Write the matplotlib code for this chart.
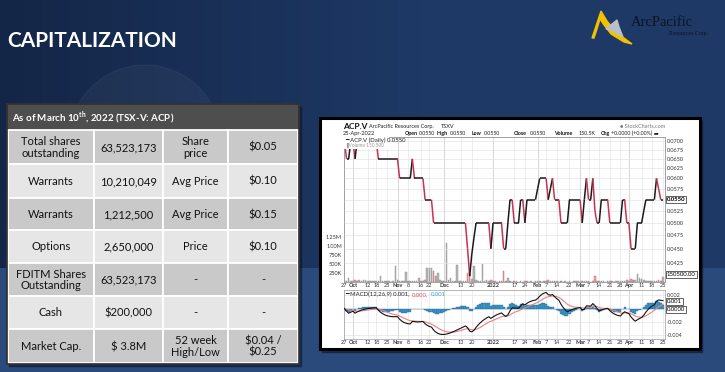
import numpy as np
import pandas as pd
import matplotlib
matplotlib.use("Agg")
import matplotlib.pyplot as plt
from matplotlib.patches import Rectangle, Circle, Polygon
from matplotlib.collections import LineCollection
from matplotlib.ticker import NullLocator, NullFormatter
import matplotlib.transforms as mtransforms

plt.rcParams['font.family'] = ['Lato', 'DejaVu Sans']
plt.rcParams['mathtext.fontset'] = 'custom'
plt.rcParams['mathtext.rm'] = 'Lato'
plt.rcParams['mathtext.bf'] = 'Lato:bold'

# ---- table data ----
table_title = r"As of March 10$^{\mathbf{th}}$, 2022 (TSX-V: ACP)"
col_item = ["Total shares\noutstanding", "Warrants", "Warrants", "Options",
            "FDITM Shares\nOutstanding", "Cash", "Market Cap."]
col_amount = ["63,523,173", "10,210,049", "1,212,500", "2,650,000",
              "63,523,173", "$200,000", "$ 3.8M"]
col_label = ["Share\nprice", "Avg Price", "Avg Price", "Price", "-", "-", "52 week\nHigh/Low"]
col_price = ["$0.05", "$0.10", "$0.15", "$0.10", "-", "-", "$0.04 /\n$0.25"]

# ---- stock chart data (ACP.V daily, 27 Sep 2021 - 25 Apr 2022) ----
start_date, end_date = "2021-09-27", "2022-04-25"
close = [
    0.0700, 0.0650, 0.0650, 0.0700, 0.0700, 0.0650, 0.0700, 0.0700, 0.0700, 0.0700,
    0.0700, 0.0700, 0.0700, 0.0700, 0.0700, 0.0700, 0.0650, 0.0650, 0.0650, 0.0650,
    0.0650, 0.0650, 0.0650, 0.0650, 0.0650, 0.0650, 0.0600, 0.0600, 0.0600, 0.0600,
    0.0600, 0.0600, 0.0650, 0.0600, 0.0600, 0.0600, 0.0600, 0.0600, 0.0550, 0.0550,
    0.0550, 0.0550, 0.0500, 0.0500, 0.0500, 0.0500, 0.0500, 0.0500, 0.0500, 0.0500,
    0.0500, 0.0500, 0.0500, 0.0500, 0.0500, 0.0500, 0.0500, 0.0500, 0.0450, 0.0402,
    0.0440, 0.0470, 0.0500, 0.0500, 0.0500, 0.0500, 0.0500, 0.0500, 0.0500, 0.0450,
    0.0500, 0.0500, 0.0500, 0.0500, 0.0500, 0.0450, 0.0450, 0.0500, 0.0550, 0.0550,
    0.0500, 0.0500, 0.0500, 0.0550, 0.0550, 0.0500, 0.0550, 0.0550, 0.0550, 0.0550,
    0.0550, 0.0575, 0.0600, 0.0600, 0.0600, 0.0600, 0.0550, 0.0575, 0.0600, 0.0550,
    0.0550, 0.0550, 0.0500, 0.0500, 0.0500, 0.0500, 0.0550, 0.0550, 0.0550, 0.0550,
    0.0550, 0.0550, 0.0500, 0.0550, 0.0600, 0.0550, 0.0550, 0.0600, 0.0525, 0.0500,
    0.0500, 0.0550, 0.0550, 0.0550, 0.0550, 0.0500, 0.0500, 0.0500, 0.0500, 0.0500,
    0.0500, 0.0550, 0.0550, 0.0500, 0.0500, 0.0450, 0.0450, 0.0450, 0.0500, 0.0500,
    0.0500, 0.0525, 0.0550, 0.0550, 0.0550, 0.0550, 0.0550, 0.0600, 0.0575, 0.0550,
    0.0550,
]
volume_k = [
    60, 20, 100, 30, 20, 60, 40, 50, 30, 60,
    50, 40, 20, 30, 20, 30, 40, 180, 20, 30,
    20, 30, 10, 20, 460, 60, 30, 20, 40, 290,
    20, 40, 30, 20, 20, 110, 30, 20, 50, 385,
    395, 380, 320, 180, 260, 50, 30, 40, 1100, 60,
    120, 30, 40, 470, 40, 30, 20, 40, 260, 210,
    90, 450, 60, 30, 40, 490, 30, 60, 20, 50,
    20, 30, 10, 20, 20, 320, 40, 100, 20, 10,
    30, 20, 10, 20, 10, 30, 20, 10, 20, 10,
    20, 30, 20, 10, 20, 30, 60, 20, 30, 40,
    20, 10, 30, 10, 20, 10, 20, 10, 20, 30,
    20, 10, 40, 20, 30, 20, 10, 20, 170, 30,
    20, 30, 20, 10, 20, 40, 20, 10, 20, 30,
    20, 30, 20, 60, 40, 90, 50, 60, 210, 100,
    80, 60, 40, 30, 20, 30, 20, 40, 50, 30,
    150.5,
]
tick_dates = ["2021-09-27", "2021-10-01", "2021-10-12", "2021-10-18", "2021-10-25",
              "2021-11-01", "2021-11-08", "2021-11-16", "2021-11-22", "2021-12-01",
              "2021-12-13", "2021-12-20", "2022-01-03", "2022-01-17", "2022-01-24",
              "2022-02-01", "2022-02-07", "2022-02-14", "2022-02-22", "2022-03-01",
              "2022-03-07", "2022-03-14", "2022-03-21", "2022-03-28", "2022-04-01",
              "2022-04-11", "2022-04-18", "2022-04-25"]
tick_labels = ["27", "Oct", "12", "18", "25", "Nov", "8", "16", "22", "Dec", "13", "20",
               "2022", "17", "24", "Feb", "7", "14", "22", "Mar", "7", "14", "21", "28",
               "Apr", "11", "18", "25"]
month_labels = {"Oct", "Nov", "Dec", "2022", "Feb", "Mar", "Apr"}
price_ticks = [0.0425, 0.0450, 0.0475, 0.0500, 0.0525, 0.0550, 0.0575,
               0.0600, 0.0625, 0.0650, 0.0675, 0.0700]
vol_ticks = [250e3, 500e3, 750e3, 1.0e6, 1.25e6]
vol_tick_labels = ["250K", "500K", "750K", "1.00M", "1.25M"]
macd_ticks = [0.002, -0.002, -0.004]

dates = pd.bdate_range(start_date, end_date)
x = np.arange(len(dates))
close = np.array(close)
volume = np.array(volume_k) * 1000
tick_pos = dates.get_indexer(pd.to_datetime(tick_dates))

s = pd.Series(close)
macd = s.ewm(span=12, adjust=False).mean() - s.ewm(span=26, adjust=False).mean()
signal = macd.ewm(span=9, adjust=False).mean()
hist = macd - signal

# ---- figure / slide background ----
W, H = 725, 372
fig = plt.figure(figsize=(7.25, 3.72), dpi=100)
bg = fig.add_axes([0, 0, 1, 1])
bg.set_xlim(0, W)
bg.set_ylim(H, 0)
bg.axis("off")

yy, xx = np.mgrid[0:H, 0:W]
c_left = np.array([0x14, 0x26, 0x47]) / 255
c_right = np.array([0x1e, 0x39, 0x66]) / 255
t = np.clip(xx / 420.0, 0, 1)[..., None]
img = c_left * (1 - t) + c_right * t
img[yy >= 268] = np.array([0x29, 0x4a, 0x7b]) / 255
bg.imshow(img, extent=[0, W, H, 0], aspect="auto", zorder=0)
bg.add_patch(Circle((145, 141), 76, color="white", alpha=0.04, zorder=1))

bg.text(7, 41, "CAPITALIZATION", color="white", fontsize=15, fontweight="bold",
        va="center", ha="left", zorder=3)

# logo
bg.add_patch(Polygon([(592, 38), (596, 26), (601, 11), (607, 21), (616, 32), (632, 44),
                      (624, 42), (611, 34), (604, 25), (600, 19), (597, 29), (594, 38)],
                     closed=True, color="#f2c200", zorder=3))
bg.add_patch(Polygon([(606, 29), (612, 24), (617, 20), (619, 27), (623, 37), (617, 33), (611, 30)],
                     closed=True, color="#b9bfc9", zorder=3))
bg.text(631, 23, "ArcPacific", family="Liberation Serif", fontsize=10.5, color="#0c1424",
        va="center", ha="left", zorder=3)
bg.text(708, 34, "Resources Corp.", family="Liberation Serif", fontsize=4.2, color="#0c1424",
        va="center", ha="right", zorder=3)

# ---- table ----
col_edges = [8, 94, 163, 228, 298]
row_edges = [130, 164, 198, 230, 263, 296, 329, 363]
bg.add_patch(Rectangle((9, 107), 292, 259, color="#0b1426", alpha=0.5, zorder=2))
bg.add_patch(Rectangle((7, 104), 292, 260, facecolor="#4e4e4e", edgecolor="#2e2e2e", lw=1.2, zorder=3))
bg.text(12, 117.5, table_title, color="white", fontsize=7, fontweight="bold",
        va="center", ha="left", zorder=5)
for r in range(len(col_item)):
    y0, y1 = row_edges[r], row_edges[r + 1]
    fc = "#c9c9c9" if r % 2 == 0 else "#e6e6e6"
    cells = [col_item[r], col_amount[r], col_label[r], col_price[r]]
    for c in range(4):
        x0, x1 = col_edges[c], col_edges[c + 1]
        bg.add_patch(Rectangle((x0, y0), x1 - x0, y1 - y0, facecolor=fc,
                               edgecolor="white", lw=1.3, zorder=4))
        bg.text((x0 + x1) / 2, (y0 + y1) / 2 + 0.5, cells[c], fontsize=8, color="#111111",
                ha="center", va="center", linespacing=1.05, parse_math=False, zorder=5)
bg.add_patch(Rectangle((7, 104), 292, 260, facecolor="none", edgecolor="#333333", lw=1.2, zorder=6))

# ---- stock chart frame ----
bg.add_patch(Rectangle((322, 121), 380, 231, color="#0a1222", alpha=0.5, zorder=2))
bg.add_patch(Rectangle((320, 118), 380, 231, facecolor="white", edgecolor="black", lw=2.2, zorder=3))

small = 4.0
bg.text(343, 126.5, "ACP.V", fontsize=6, fontweight="bold", color="#111", va="center", zorder=5)
bg.text(369, 126.5, "ArcPacific Resources Corp.", fontsize=small, color="#222", va="center", zorder=5)
bg.text(441, 126.5, "TSXV", fontsize=small, color="#222", va="center", zorder=5)
bg.text(665, 126.5, "\u25CF StockCharts.com", fontsize=small, color="#777", va="center", ha="right", zorder=5)
bg.text(343, 133.3, "25-Apr-2022", fontsize=small, color="#222", va="center", zorder=5)
header_keys = [("Open", 405), ("High", 437), ("Low", 472), ("Close", 514), ("Volume", 554), ("Chg", 601)]
header_vals = [("0.0550", 419), ("0.0550", 449.5), ("0.0550", 483.5), ("0.0550", 529.5),
               ("150.5K", 579), ("+0.0000 (+0.00%) \u25AC", 611)]
for (k, kx), (v, vx) in zip(header_keys, header_vals):
    bg.text(kx, 133.3, k, fontsize=3.8, fontweight="bold", color="#111", va="center", zorder=5)
    bg.text(vx, 133.3, v, fontsize=3.8, color="#222", va="center", zorder=5)

# ---- price + volume panel ----
L, R = 344 / W, 665 / W
ax_v = fig.add_axes([L, 1 - 282 / H, R - L, (282 - 137) / H])
ax_m = fig.add_axes([L, 1 - 339 / H, R - L, (339 - 290) / H], sharex=ax_v)
ax_p = ax_v.twinx()

down = np.r_[False, close[1:] < close[:-1]]
ax_v.bar(x[~down], volume[~down], width=0.75, color="#b8b8b8", edgecolor="#8c8c8c", lw=0.3, zorder=2)
ax_v.bar(x[down], volume[down], width=0.75, color="#eaa3ad", edgecolor="#c06070", lw=0.3, zorder=2)
ax_v.set_ylim(0, 4.05e6)
ax_v.set_yticks(vol_ticks, vol_tick_labels)
ax_v.set_xlim(-0.2, 151)

segs = [[(x[i], close[i]), (x[i + 1], close[i + 1])] for i in range(len(x) - 1)]
seg_colors = ["#c8324f" if close[i + 1] < close[i] else "#1a1a1a" for i in range(len(x) - 1)]
ax_p.add_collection(LineCollection(segs, colors=seg_colors, linewidths=1.1, zorder=3))
ax_p.set_yscale("log")
ax_p.set_ylim(0.03925, 0.0711)
ax_p.set_yticks(price_ticks, [f"{v:.4f}" for v in price_ticks])
ax_p.yaxis.set_minor_locator(NullLocator())
ax_p.yaxis.set_minor_formatter(NullFormatter())
ax_p.grid(axis="y", color="#e4e4e4", lw=0.5, zorder=0)

for a in (ax_v, ax_p, ax_m):
    a.tick_params(length=0, labelsize=small, pad=1.5, colors="#333")
    for sp in a.spines.values():
        sp.set_color("#9a9a9a")
        sp.set_linewidth(0.5)

for a in (ax_v, ax_m):
    a.set_xticks(tick_pos, tick_labels)
    a.tick_params(axis="x", labelbottom=True, pad=1)
    for lab in a.get_xticklabels():
        if lab.get_text() in month_labels:
            lab.set_fontweight("bold")
    for p, lab in zip(tick_pos, tick_labels):
        a.axvline(p, color="#c8c8c8" if lab in month_labels else "#e6e6e6", lw=0.5, zorder=0)

# legend box over price line
ax_p.add_patch(Rectangle((0, 0.92), 0.14, 0.08, transform=ax_p.transAxes,
                         facecolor="white", edgecolor="none", zorder=5))
ax_p.text(0.004, 0.975, "\u2501 ACP.V (Daily) 0.0550", transform=ax_p.transAxes,
          fontsize=4.3, color="#222", va="center", zorder=6)
ax_p.text(0.004, 0.94, "\u2590Volume 150,500", transform=ax_p.transAxes,
          fontsize=3.4, color="#999", va="center", zorder=6)

# value tags on right
tr_p = mtransforms.blended_transform_factory(ax_p.transAxes, ax_p.transData)
ax_p.text(1.006, 0.0550, "0.0550", transform=tr_p, fontsize=4.3, fontweight="bold", va="center",
          bbox=dict(boxstyle="square,pad=0.15", fc="white", ec="#222", lw=0.5), zorder=6, clip_on=False)
tr_v = mtransforms.blended_transform_factory(ax_v.transAxes, ax_v.transData)
ax_v.text(1.006, 200e3, "150500.00", transform=tr_v, fontsize=4.3, va="center",
          bbox=dict(boxstyle="square,pad=0.15", fc="white", ec="#222", lw=0.5), zorder=6, clip_on=False)

# ---- MACD panel ----
ax_m.bar(x, hist, width=1.0, color="#3d9bd0", edgecolor="#1f5f8a", lw=0.25, zorder=2)
ax_m.plot(x, signal, color="#ee8080", lw=0.8, zorder=3)
ax_m.plot(x, macd, color="#111111", lw=0.8, zorder=4)
ax_m.set_ylim(-0.0046, 0.0028)
ax_m.yaxis.tick_right()
ax_m.set_yticks(macd_ticks, [f"{v:.3f}" for v in macd_ticks])
ax_m.grid(axis="y", color="#e4e4e4", lw=0.5, zorder=0)
ax_m.axhline(0, color="#e4e4e4", lw=0.5, zorder=0)
tr_m = mtransforms.blended_transform_factory(ax_m.transAxes, ax_m.transData)
ax_m.text(1.006, 0.0011, "0.001", transform=tr_m, fontsize=4.3, va="center",
          bbox=dict(boxstyle="square,pad=0.15", fc="white", ec="#222", lw=0.5), zorder=6, clip_on=False)
ax_m.text(1.006, -0.0001, "0.0000", transform=tr_m, fontsize=4.3, va="center",
          bbox=dict(boxstyle="square,pad=0.15", fc="white", ec="#222", lw=0.5), zorder=6, clip_on=False)
ax_m.text(0.004, 0.9, "\u2501 MACD(12,26,9) 0.001,", transform=ax_m.transAxes, fontsize=4.3,
          color="#222", va="center", zorder=6)
ax_m.text(0.213, 0.9, "0.000,", transform=ax_m.transAxes, fontsize=4.3, color="#e05050", va="center", zorder=6)
ax_m.text(0.27, 0.9, "0.001", transform=ax_m.transAxes, fontsize=4.3, color="#3aa0d8", va="center", zorder=6)

fig.savefig("out.png", dpi=100)
